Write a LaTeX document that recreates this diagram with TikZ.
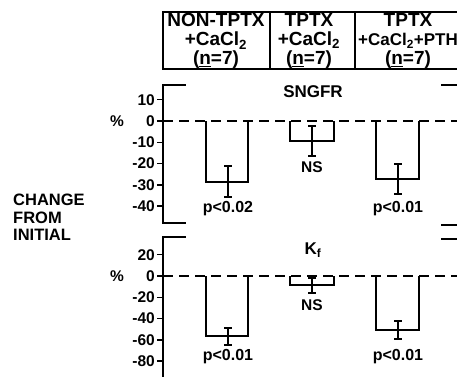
\documentclass[tikz,border=0pt]{standalone}
\usepackage{fontspec}
\setmainfont{Liberation Sans}
\usepackage{tikz}
\tikzset{
  font={\bfseries\fontsize{15.5pt}{17}\selectfont},
  axisline/.style={line width=1.5pt, line cap=rect},
  barline/.style={line width=1.5pt},
  errline/.style={line width=1.3pt},
  zeroline/.style={line width=1.4pt, dash pattern=on 10pt off 6pt},
  ticklabel/.style={anchor=east, inner sep=0pt},
  plabel/.style={font={\bfseries\fontsize{16pt}{18}\selectfont}},
  headtext/.style={align=center, inner sep=0pt,
    font={\bfseries\fontsize{19pt}{19}\selectfont}}}

\begin{document}
\begin{tikzpicture}[x=1pt,y=1pt]
\useasboundingbox (0,0) rectangle (457,-376);
% header table
\draw [axisline] (163,-12) -- (457,-12);
\draw [axisline] (163,-69) -- (457,-69);
\draw [axisline] (163,-12) -- (163,-69);
\draw [axisline] (270,-12) -- (270,-69);
\draw [axisline] (355,-12) -- (355,-69);
\node [headtext] (nontptx) at (216,-41) {NON-TPTX\\+CaCl\textsubscript{2}\\(\underline{n}=7)};
\node [headtext] (tptx) at (309,-41) {TPTX\\+CaCl\textsubscript{2}\\(\underline{n}=7)};
\node [headtext] (tptxpth) at (408,-41) {TPTX\\{\fontsize{17pt}{19}\selectfont +CaCl\textsubscript{2}+PTH}\\(\underline{n}=7)};
% side label
\node [align=left, anchor=north west, inner sep=0pt,
  font={\bfseries\fontsize{16.5pt}{17.5}\selectfont}] (change) at (13,-194) {CHANGE\\FROM\\INITIAL};
% upper panel: SNGFR
\draw [axisline] (185,-85) -- (163,-85) -- (163,-223) -- (185,-223);
\draw [axisline] (442,-85) -- (457,-85);
\draw [axisline] (442,-225) -- (457,-225);
\foreach \v/\y in {10/-99.7,0/-121,-10/-142.3,-20/-163.6,-30/-184.9,-40/-206.2} {
  \draw [axisline] (158,\y) -- (163,\y);
  \node [ticklabel] at (155,\y) {\v};
}
\node (pcta) at (117,-121) {\%};
\draw [zeroline] (163,-121) -- (457,-121);
\node (sngfr) at (313,-92) {\fontsize{17pt}{18}\selectfont SNGFR};
\draw [barline] (206,-121) -- (206,-182) -- (248,-182) -- (248,-121);
\draw [errline] (228,-166) -- (228,-197);
\draw [errline] (224,-166) -- (232,-166);
\draw [errline] (224,-197) -- (232,-197);
\draw [barline] (290,-121) -- (290,-141) -- (334,-141) -- (334,-121);
\draw [errline] (312,-126) -- (312,-156);
\draw [errline] (308,-126) -- (316,-126);
\draw [errline] (308,-156) -- (316,-156);
\draw [barline] (376,-121) -- (376,-179) -- (419,-179) -- (419,-121);
\draw [errline] (398,-164) -- (398,-194);
\draw [errline] (394,-164) -- (402,-164);
\draw [errline] (394,-194) -- (402,-194);
\node [plabel] (pa1) at (228,-209) {p<0.02};
\node (nsa) at (312,-167) {NS};
\node [plabel] (pa3) at (398,-209) {p<0.01};
% lower panel: Kf
\draw [axisline] (185,-237) -- (163,-237) -- (163,-376);
\draw [axisline] (442,-239) -- (457,-239);
\foreach \v/\y in {20/-254.7,0/-276,-20/-297.3,-40/-318.6,-60/-339.9,-80/-361.2} {
  \draw [axisline] (158,\y) -- (163,\y);
  \node [ticklabel] at (155,\y) {\v};
}
\node (pctb) at (117,-276) {\%};
\draw [zeroline] (163,-276) -- (457,-276);
\node (kf) at (313,-250) {\fontsize{17pt}{18}\selectfont K\textsubscript{f}};
\draw [barline] (206,-276) -- (206,-336) -- (248,-336) -- (248,-276);
\draw [errline] (228,-328) -- (228,-345);
\draw [errline] (224,-328) -- (232,-328);
\draw [errline] (224,-345) -- (232,-345);
\draw [barline] (290,-276) -- (290,-285) -- (334,-285) -- (334,-276);
\draw [errline] (312,-278) -- (312,-293);
\draw [errline] (308,-278) -- (316,-278);
\draw [errline] (308,-293) -- (316,-293);
\draw [barline] (376,-276) -- (376,-330) -- (419,-330) -- (419,-276);
\draw [errline] (398,-321) -- (398,-339);
\draw [errline] (394,-321) -- (402,-321);
\draw [errline] (394,-339) -- (402,-339);
\node [plabel] (pb1) at (228,-357) {p<0.01};
\node (nsb) at (312,-305) {NS};
\node [plabel] (pb3) at (398,-357) {p<0.01};
\end{tikzpicture}
\end{document}
